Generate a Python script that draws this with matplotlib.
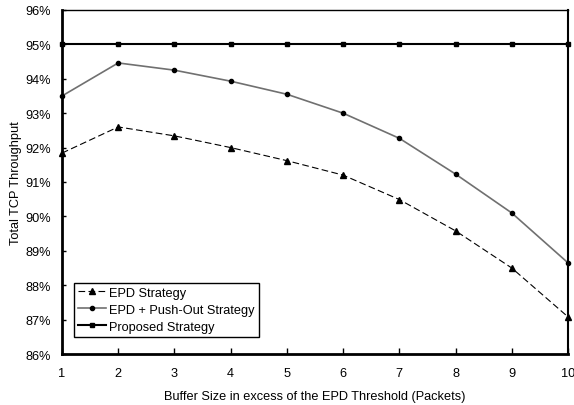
import matplotlib
matplotlib.use('Agg')
import matplotlib.pyplot as plt
import numpy as np

plt.rcParams['font.family'] = ['Liberation Sans', 'DejaVu Sans']

buffer_sizes = [1, 2, 3, 4, 5, 6, 7, 8, 9, 10]
epd = [91.84, 92.6, 92.34, 92.0, 91.62, 91.2, 90.49, 89.58, 88.5, 87.08]
epd_push = [93.5, 94.46, 94.25, 93.93, 93.55, 93.0, 92.27, 91.23, 90.1, 88.65]
proposed = [95, 95, 95, 95, 95, 95, 95, 95, 95, 95]

fig = plt.figure(figsize=(5.74, 4.06), dpi=100)
ax = fig.add_axes([0.108, 0.1256, 0.8815, 0.8474])

ax.plot(buffer_sizes, epd, color='black', linestyle=(0, (6, 3)), linewidth=0.8,
        marker='^', markersize=4, label='EPD Strategy', clip_on=False)
ax.plot(buffer_sizes, epd_push, color='#707070', linewidth=1.2,
        marker='o', markersize=3, markerfacecolor='black', markeredgecolor='black',
        label='EPD + Push-Out Strategy', clip_on=False)
ax.plot(buffer_sizes, proposed, color='black', linewidth=1.5,
        marker='s', markersize=3.3, label='Proposed Strategy', clip_on=False)

ax.set_xlim(1, 10)
ax.set_ylim(86, 96)
ax.set_xticks(buffer_sizes)
ax.set_yticks(np.arange(86, 97, 1))
ax.set_yticklabels(['%d%%' % v for v in range(86, 97)])
ax.tick_params(axis='x', direction='in', length=4, width=1, pad=9, labelsize=9.2)
ax.tick_params(axis='y', direction='in', length=3, width=1, pad=8, labelsize=9.2)

ax.spines['left'].set_linewidth(2)
ax.spines['bottom'].set_linewidth(2)
ax.spines['top'].set_linewidth(1)
ax.spines['right'].set_linewidth(1.5)

ax.set_xlabel('Buffer Size in excess of the EPD Threshold (Packets)', fontsize=9.2, labelpad=8)
ax.set_ylabel('Total TCP Throughput', fontsize=9.2, labelpad=2)

leg = ax.legend(loc='lower left', bbox_to_anchor=(0.024, 0.05), fontsize=9.2,
                fancybox=False, edgecolor='black', framealpha=1,
                handlelength=2.2, handletextpad=0.25, borderpad=0.3, labelspacing=0.4,
                borderaxespad=0)
leg.get_frame().set_linewidth(1)

fig.savefig('out.png', dpi=100)
